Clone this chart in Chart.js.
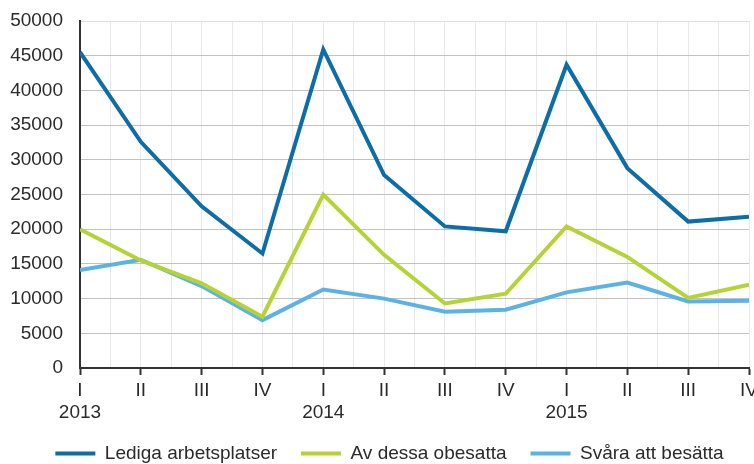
<!DOCTYPE html>
<html>
<head>
<meta charset="utf-8">
<script src="https://cdn.jsdelivr.net/npm/chart.js@4"></script>
<style>
  html, body { margin: 0; padding: 0; background: #fff; }
  #wrap { width: 754px; height: 464px; }
</style>
</head>
<body>
<div id="wrap"><canvas id="chart" width="754" height="464"></canvas></div>
<script>
// Kvartal och år
const quarters = ['I', 'II', 'III', 'IV', 'I', 'II', 'III', 'IV', 'I', 'II', 'III', 'IV'];
const years = ['2013', '', '', '', '2014', '', '', '', '2015', '', '', ''];

const lediga = [45500, 32600, 23300, 16500, 45900, 27800, 20400, 19700, 43700, 28800, 21100, 21800];
const obesatta = [20000, 15500, 12200, 7400, 25000, 16300, 9300, 10700, 20400, 16000, 10100, 12000];
const svara = [14100, 15600, 11800, 6900, 11300, 10000, 8100, 8400, 10900, 12300, 9600, 9700];

const yTicks = [0, 5000, 10000, 15000, 20000, 25000, 30000, 35000, 40000, 45000, 50000];

const textColor = '#2b2b2b';
const font = { family: "'Liberation Sans', Arial, sans-serif", size: 19 };

function toPoints(values) {
    return values.map((v, i) => ({ x: i, y: v }));
}

function series(label, values, color) {
    return {
        label: label,
        data: toPoints(values),
        borderColor: color,
        backgroundColor: color,
        borderWidth: 4,
        pointRadius: 0,
        tension: 0
    };
}

// flyttar förklaringen lite åt höger
const legendShift = {
    id: 'legendShift',
    afterLayout(chart) {
        chart.legend.left += 15;
        chart.legend.right += 15;
    }
};

new Chart(document.getElementById('chart'), {
    type: 'line',
    data: {
        datasets: [
            series('Lediga arbetsplatser', lediga, '#0d6da7'),
            series('Av dessa obesatta', obesatta, '#b5d334'),
            series('Svåra att besätta', svara, '#5db2e5')
        ]
    },
    plugins: [legendShift],
    options: {
        responsive: false,
        animation: false,
        layout: { padding: { top: 21, right: 5, left: 0, bottom: 0 } },
        plugins: {
            tooltip: { enabled: false },
            legend: {
                position: 'bottom',
                maxHeight: 44,
                labels: {
                    color: textColor,
                    font: font,
                    usePointStyle: true,
                    pointStyle: 'line',
                    pointStyleWidth: 40,
                    padding: 24
                }
            }
        },
        scales: {
            x: {
                type: 'linear',
                min: 0,
                max: quarters.length - 1,
                afterBuildTicks: (scale) => {
                    const t = [];
                    for (let i = 0; i <= (quarters.length - 1) * 2; i++) t.push({ value: i / 2 });
                    scale.ticks = t;
                },
                afterFit: (scale) => {
                    scale.height = 52;
                    scale.paddingLeft = 0;
                    scale.paddingRight = 0;
                },
                ticks: {
                    autoSkip: false,
                    maxRotation: 0,
                    padding: 5,
                    color: textColor,
                    font: { family: font.family, size: 19, lineHeight: 1.16 },
                    callback: (value) => {
                        if (!Number.isInteger(value)) return '';
                        return years[value] ? [quarters[value], years[value]] : quarters[value];
                    }
                },
                grid: {
                    color: '#e8e8f0',
                    borderDash: [2, 2],
                    tickLength: 7,
                    tickColor: (ctx) => Number.isInteger(ctx.tick && ctx.tick.value) ? '#333' : 'rgba(0,0,0,0)',
                    tickWidth: 2,
                    tickBorderDash: []
                },
                border: { color: '#333', width: 2 }
            },
            y: {
                min: 0,
                max: 50000,
                afterBuildTicks: (scale) => {
                    scale.ticks = yTicks.map(v => ({ value: v }));
                },
                afterFit: (scale) => {
                    scale.width = 80;
                    scale.paddingTop = 0;
                    scale.paddingBottom = 0;
                },
                ticks: {
                    padding: 17,
                    color: textColor,
                    font: font,
                    callback: (value) => String(value)
                },
                grid: {
                    color: (ctx) => ctx.tick && ctx.tick.value === 50000 ? '#e0e0e0' : '#c2c2c2',
                    borderDash: [2, 2],
                    drawTicks: false
                },
                border: { color: '#333', width: 2 }
            }
        }
    }
});
</script>
</body>
</html>
